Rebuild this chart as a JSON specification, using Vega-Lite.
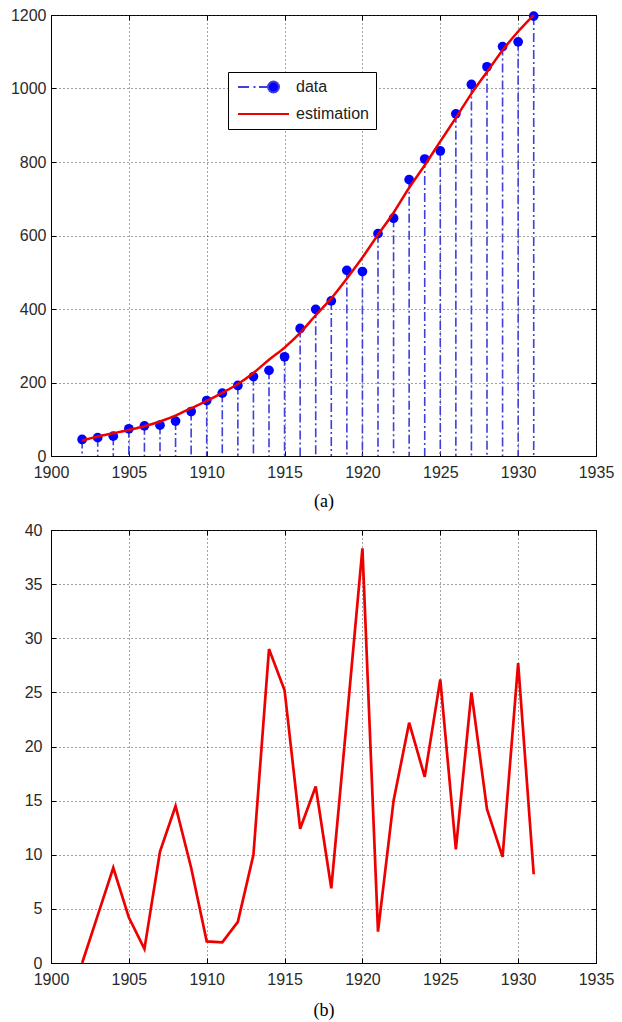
{
  "$schema": "https://vega.github.io/schema/vega-lite/v6.json",
  "background": "white",
  "padding": {"left": 5, "top": 6, "right": 5, "bottom": 0},
  "spacing": 10,
  "datasets": {
    "series": [
      {"year": 1902, "data": 45, "estimation": 42, "error": 0},
      {"year": 1903, "data": 50, "estimation": 53, "error": 4.4},
      {"year": 1904, "data": 54, "estimation": 62, "error": 8.8},
      {"year": 1905, "data": 74, "estimation": 71, "error": 4.2},
      {"year": 1906, "data": 82, "estimation": 81, "error": 1.3},
      {"year": 1907, "data": 84, "estimation": 94, "error": 10.3},
      {"year": 1908, "data": 95, "estimation": 110, "error": 14.5},
      {"year": 1909, "data": 121, "estimation": 130, "error": 8.8},
      {"year": 1910, "data": 151, "estimation": 150, "error": 2.0},
      {"year": 1911, "data": 171, "estimation": 172, "error": 1.9},
      {"year": 1912, "data": 192, "estimation": 196, "error": 3.8},
      {"year": 1913, "data": 216, "estimation": 226, "error": 10},
      {"year": 1914, "data": 233, "estimation": 262, "error": 29},
      {"year": 1915, "data": 270, "estimation": 295, "error": 25.2},
      {"year": 1916, "data": 347, "estimation": 335, "error": 12.4},
      {"year": 1917, "data": 399, "estimation": 383, "error": 16.3},
      {"year": 1918, "data": 422, "estimation": 429, "error": 6.9},
      {"year": 1919, "data": 505, "estimation": 483, "error": 22.5},
      {"year": 1920, "data": 502, "estimation": 540, "error": 38.3},
      {"year": 1921, "data": 605, "estimation": 602, "error": 2.9},
      {"year": 1922, "data": 647, "estimation": 662, "error": 15},
      {"year": 1923, "data": 752, "estimation": 730, "error": 22.2},
      {"year": 1924, "data": 808, "estimation": 791, "error": 17.2},
      {"year": 1925, "data": 830, "estimation": 856, "error": 26.2},
      {"year": 1926, "data": 931, "estimation": 920, "error": 10.5},
      {"year": 1927, "data": 1011, "estimation": 986, "error": 25},
      {"year": 1928, "data": 1059, "estimation": 1045, "error": 14.2},
      {"year": 1929, "data": 1114, "estimation": 1104, "error": 9.8},
      {"year": 1930, "data": 1127, "estimation": 1155, "error": 27.7},
      {"year": 1931, "data": 1197, "estimation": 1200, "error": 8.2}
    ],
    "legendItems": [
      {"series": "data"},
      {"series": "estimation"}
    ]
  },
  "config": {
    "view": {"stroke": "#000", "strokeWidth": 1},
    "axis": {
      "labelFont": "Liberation Sans",
      "labelFontSize": 16,
      "labelColor": "#2a2a2a",
      "labelFlush": false,
      "labelOverlap": false,
      "domainColor": "#000",
      "tickColor": "#000",
      "tickSize": -5,
      "gridColor": "#333",
      "gridDash": [1, 3],
      "gridWidth": 1,
      "gridOpacity": 0.9,
      "titleFont": "Liberation Serif",
      "titleFontSize": 18,
      "titleFontWeight": "normal",
      "titleColor": "#000"
    }
  },
  "vconcat": [
    {
      "width": 545,
      "height": 441,
      "data": {"name": "series"},
      "resolve": {"axis": {"x": "independent", "y": "independent"}},
      "layer": [
        {
          "mark": {"type": "rule", "color": "#3f3fdc", "strokeWidth": 1.6, "strokeDash": [9, 3, 2, 3]},
          "encoding": {
            "x": {"field": "year", "type": "quantitative", "scale": {"domain": [1900, 1935], "nice": false},
              "axis": {"orient": "bottom", "values": [1900, 1905, 1910, 1915, 1920, 1925, 1930, 1935], "format": "d", "grid": true, "labelPadding": 13, "title": "(a)", "titlePadding": 12}},
            "y": {"field": "data", "type": "quantitative", "scale": {"domain": [0, 1200], "nice": false},
              "axis": {"orient": "left", "values": [0, 200, 400, 600, 800, 1000, 1200], "format": "d", "grid": true, "title": null, "labelPadding": 10, "minExtent": 45}},
            "y2": {"datum": 0}
          }
        },
        {
          "mark": {"type": "point", "filled": true, "color": "#0000ff", "size": 95, "opacity": 1},
          "encoding": {
            "x": {"field": "year", "type": "quantitative",
              "axis": {"orient": "top", "values": [1900, 1905, 1910, 1915, 1920, 1925, 1930, 1935], "labels": false, "grid": false, "title": null, "domain": false}},
            "y": {"field": "data", "type": "quantitative",
              "axis": {"orient": "right", "values": [0, 200, 400, 600, 800, 1000, 1200], "labels": false, "grid": false, "title": null, "domain": false}}
          }
        },
        {
          "mark": {"type": "line", "color": "#ee0000", "strokeWidth": 2.5, "interpolate": "monotone"},
          "encoding": {
            "x": {"field": "year", "type": "quantitative", "axis": null},
            "y": {"field": "estimation", "type": "quantitative", "axis": null}
          }
        },
        {
          "data": {"name": "legendItems"},
          "mark": {"type": "point", "opacity": 0},
          "encoding": {
            "shape": {"field": "series", "type": "nominal",
              "scale": {"domain": ["data", "estimation"], "range": ["M-1,0H1.2M2.1,0H2.5M3.2,0H5.0M5.0,0A1.1,1.1 0 1,0 7.2,0A1.1,1.1 0 1,0 5.0,0Z", "M-1,0H9.2"]},
              "legend": {"orient": "none", "legendX": 177, "legendY": 57, "title": null, "padding": 7, "strokeColor": "#000", "fillColor": "#fff", "symbolSize": 100, "symbolStrokeWidth": 2, "symbolOpacity": 1, "labelFont": "Liberation Sans", "labelFontSize": 16, "labelColor": "#222", "labelOffset": 45, "rowPadding": 9}},
            "fill": {"field": "series", "type": "nominal",
              "scale": {"domain": ["data", "estimation"], "range": ["#0000ff", "#ee0000"]},
              "legend": {"orient": "none", "legendX": 177, "legendY": 57, "title": null, "padding": 7, "strokeColor": "#000", "fillColor": "#fff", "symbolSize": 100, "symbolStrokeWidth": 2, "symbolOpacity": 1, "labelFont": "Liberation Sans", "labelFontSize": 16, "labelColor": "#222", "labelOffset": 45, "rowPadding": 9}},
            "stroke": {"field": "series", "type": "nominal",
              "scale": {"domain": ["data", "estimation"], "range": ["#3f3fdc", "#ee0000"]},
              "legend": {"orient": "none", "legendX": 177, "legendY": 57, "title": null, "padding": 7, "strokeColor": "#000", "fillColor": "#fff", "symbolSize": 100, "symbolStrokeWidth": 2, "symbolOpacity": 1, "labelFont": "Liberation Sans", "labelFontSize": 16, "labelColor": "#222", "labelOffset": 45, "rowPadding": 9}}
          }
        }
      ]
    },
    {
      "width": 545,
      "height": 433,
      "data": {"name": "series"},
      "resolve": {"axis": {"x": "independent", "y": "independent"}},
      "layer": [
        {
          "mark": {"type": "line", "color": "#ee0000", "strokeWidth": 2.7},
          "encoding": {
            "x": {"field": "year", "type": "quantitative", "scale": {"domain": [1900, 1935], "nice": false},
              "axis": {"orient": "bottom", "values": [1900, 1905, 1910, 1915, 1920, 1925, 1930, 1935], "format": "d", "grid": true, "labelPadding": 13, "title": "(b)", "titlePadding": 14}},
            "y": {"field": "error", "type": "quantitative", "scale": {"domain": [0, 40], "nice": false},
              "axis": {"orient": "left", "values": [0, 5, 10, 15, 20, 25, 30, 35, 40], "format": "d", "grid": true, "title": null, "labelPadding": 14, "minExtent": 40}}
          }
        },
        {
          "mark": {"type": "line", "strokeOpacity": 0},
          "encoding": {
            "x": {"field": "year", "type": "quantitative",
              "axis": {"orient": "top", "values": [1900, 1905, 1910, 1915, 1920, 1925, 1930, 1935], "labels": false, "grid": false, "title": null, "domain": false}},
            "y": {"field": "error", "type": "quantitative",
              "axis": {"orient": "right", "values": [0, 5, 10, 15, 20, 25, 30, 35, 40], "labels": false, "grid": false, "title": null, "domain": false}}
          }
        }
      ]
    }
  ]
}
